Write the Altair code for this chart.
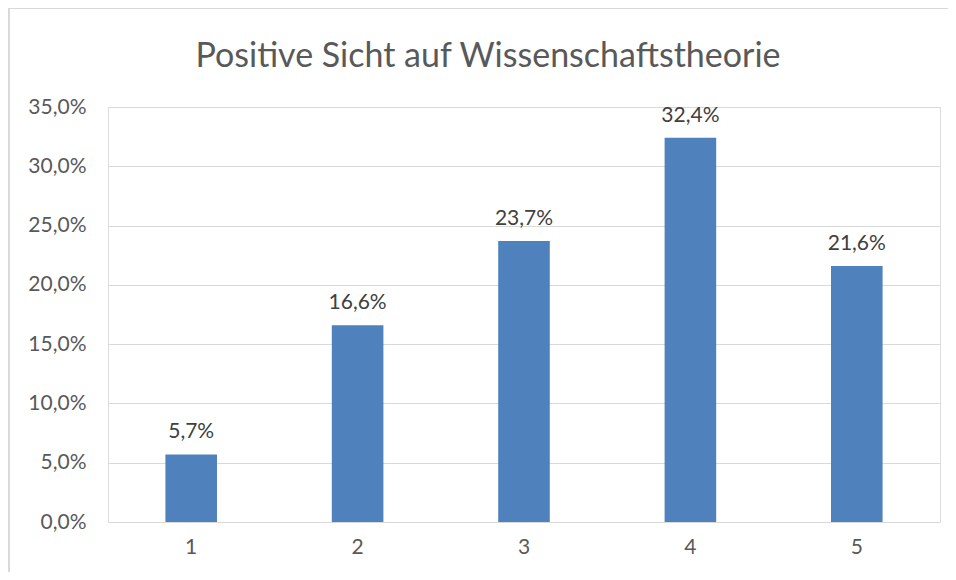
import altair as alt
import pandas as pd

categories = ["1", "2", "3", "4", "5"]
values = [5.7, 16.6, 23.7, 32.4, 21.6]
y_ticks = [0, 5, 10, 15, 20, 25, 30, 35]
title_text = "Positive Sicht auf Wissenschaftstheorie"

df = pd.DataFrame({"cat": categories, "val": values})

FONT = "Lato"
TXT = "#595959"

x_enc = alt.X("cat:O", sort=categories, title=None,
              scale=alt.Scale(paddingInner=0.69, paddingOuter=0.345),
              axis=alt.Axis(labelAngle=0, labelFont=FONT, labelFontSize=21,
                            labelColor=TXT, labelPadding=14, ticks=False,
                            domain=False, grid=False))
y_enc = alt.Y("val:Q", title=None,
              scale=alt.Scale(domain=[0, 35], nice=False),
              axis=alt.Axis(values=y_ticks, labelFont=FONT, labelFontSize=21,
                            labelColor=TXT, labelPadding=22, ticks=False,
                            domain=False, gridColor="#d9d9d9", gridWidth=1,
                            labelExpr="replace(format(datum.value, '.1f'), '.', ',') + '%'"))

base = alt.Chart(df)
one = base.transform_filter("datum.cat == '1'")

bars = base.mark_bar(color="#4f81bd").encode(x=x_enc, y=y_enc)

labels = base.transform_calculate(
    lbl="replace(format(datum.val, '.1f'), '.', ',') + '%'"
).mark_text(font=FONT, fontSize=21, color="#404040", baseline="bottom", dy=-12).encode(
    x=alt.X("cat:O", sort=categories),
    y=alt.Y("val:Q"),
    text="lbl:N",
)

border_left = one.mark_rule(color="#d9d9d9", strokeWidth=2, clip=False).encode(
    x=alt.value(-99), y=alt.value(-99), y2=alt.value(465)
)
border_top = one.mark_rule(color="#d9d9d9", strokeWidth=2, clip=False).encode(
    x=alt.value(-99), x2=alt.value(840), y=alt.value(-99)
)

title = one.transform_calculate(
    t=f"'{title_text}'"
).mark_text(font=FONT, fontSize=34, color=TXT, align="center",
            baseline="alphabetic").encode(
    x=alt.value(380), y=alt.value(-40), text="t:N"
)

chart = alt.layer(border_left, border_top, bars, labels, title).properties(
    width=832, height=415,
    autosize=alt.AutoSizeParams(type="none"),
    padding={"left": 100, "top": 99, "right": 8, "bottom": 50},
).configure_view(stroke="transparent", strokeWidth=0).configure(background="white")

chart.save("out.html", embed_options={"renderer": "svg", "actions": False})
